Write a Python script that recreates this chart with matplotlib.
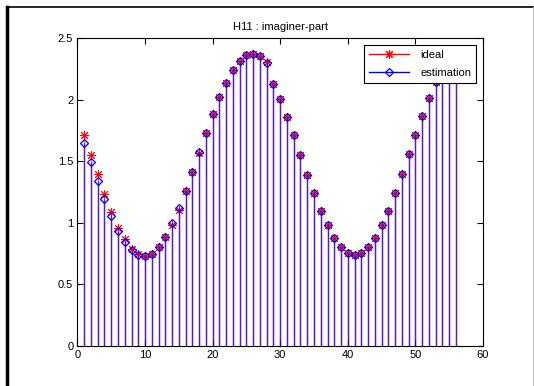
import matplotlib
matplotlib.use("Agg")
import matplotlib.pyplot as plt
import numpy as np
from matplotlib.lines import Line2D
from matplotlib.legend_handler import HandlerLine2D

plt.rcParams['font.family'] = ['Liberation Sans', 'DejaVu Sans']

n = list(range(1, 57))
ideal = [1.713, 1.553, 1.394, 1.234, 1.090, 0.955, 0.868, 0.787, 0.746, 0.734,
         0.748, 0.806, 0.885, 0.985, 1.100, 1.258, 1.412, 1.570, 1.728, 1.880,
         2.021, 2.137, 2.243, 2.313, 2.362, 2.373, 2.356, 2.305, 2.127, 2.002,
         1.861, 1.710, 1.550, 1.388, 1.239, 1.098, 0.980, 0.874, 0.801, 0.752,
         0.736, 0.752, 0.801, 0.874, 0.980, 1.098, 1.244, 1.396, 1.556, 1.710,
         1.869, 2.010, 2.140, 2.243, 2.313, 2.362]
estimation = [1.645, 1.494, 1.339, 1.190, 1.058, 0.933, 0.847, 0.780, 0.742, 0.733,
              0.747, 0.806, 0.888, 0.998, 1.120, 1.261, 1.415, 1.572, 1.726, 1.880,
              2.021, 2.137, 2.243, 2.313, 2.362, 2.373, 2.356, 2.297, 2.127, 2.002,
              1.861, 1.710, 1.550, 1.388, 1.239, 1.098, 0.980, 0.874, 0.801, 0.752,
              0.736, 0.752, 0.801, 0.874, 0.980, 1.098, 1.244, 1.396, 1.558, 1.710,
              1.869, 2.010, 2.140, 2.243, 2.313, 2.362]
title = "H11 : imaginer-part"
xticks = [0, 10, 20, 30, 40, 50, 60]
yticks = [0, 0.5, 1, 1.5, 2, 2.5]
ytick_labels = ["0", "0.5", "1", "1.5", "2", "2.5"]

fig = plt.figure(figsize=(5.34, 3.86), dpi=100)
ax = fig.add_axes([0.145, 0.1036, 0.7595, 0.798])

star = (8, 2, 0)
ax.vlines(n, 0, ideal, colors='red', lw=1.0, alpha=0.6, zorder=2)
ax.plot(n, ideal, ls='none', marker=star, ms=6.5, mew=0.7, color='red', zorder=3)
ax.vlines(n, 0, estimation, colors='blue', lw=1.0, alpha=0.7, zorder=4)
ax.plot(n, estimation, ls='none', marker='D', ms=4.2, mew=0.9, mfc='none', mec='blue', zorder=5)

ax.set_xlim(0, 60)
ax.set_ylim(0, 2.5)
ax.set_xticks(xticks)
ax.set_yticks(yticks)
ax.set_yticklabels(ytick_labels)
ax.tick_params(direction='in', length=4, width=0.8, top=True, right=True,
               labelsize=8, pad=3, colors='black')
for s in ax.spines.values():
    s.set_linewidth(0.8)
ax.set_title(title, fontsize=8, pad=6)


class EndMarkerHandler(HandlerLine2D):
    def get_xdata(self, legend, xdescent, ydescent, width, height, fontsize):
        x0 = -xdescent
        x1 = -xdescent + width
        return [x0, x1], [x1]


h1 = Line2D([], [], color='red', marker=star, ms=6.5, mew=0.8, lw=1.0)
h2 = Line2D([], [], color='blue', marker='D', ms=4.2, mew=0.9, mfc='none', lw=1.0)
leg = ax.legend([h1, h2], ['ideal', 'estimation'], loc='upper right',
                handler_map={h1: EndMarkerHandler(), h2: EndMarkerHandler()},
                fontsize=8, fancybox=False, framealpha=1, edgecolor='black',
                handlelength=3.6, borderaxespad=0.6, labelspacing=0.75,
                handletextpad=1.0, borderpad=0.45)
leg.get_frame().set_linewidth(0.8)
leg.set_zorder(10)

# figure frame decorations
fig.add_artist(Line2D([6.5 / 534, 1], [1 - 6.5 / 386, 1 - 6.5 / 386], color='black', lw=1.2,
                      transform=fig.transFigure))
fig.add_artist(Line2D([6.5 / 534, 6.5 / 534], [0, 1 - 6.5 / 386], color='black', lw=2.5,
                      transform=fig.transFigure))
fig.add_artist(Line2D([532.5 / 534, 532.5 / 534], [0, 1 - 6.5 / 386], color='#c8c8c8', lw=0.8,
                      transform=fig.transFigure))

fig.savefig("out.png", dpi=100)
